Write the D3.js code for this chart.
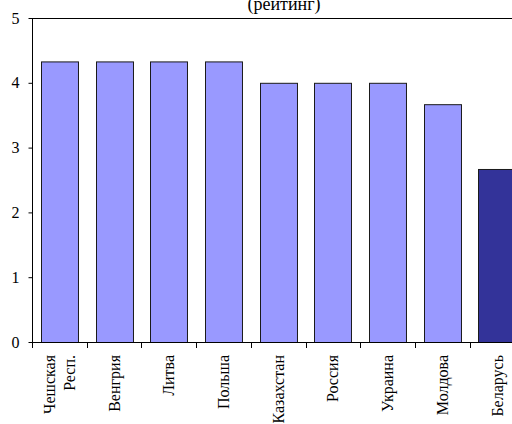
<!DOCTYPE html>
<html>
<head>
<meta charset="utf-8">
<script src="https://cdn.jsdelivr.net/npm/d3@7"></script>
<style>
  html, body { margin: 0; padding: 0; background: #fff; }
  text { font-family: "Liberation Serif", "Times New Roman", serif !important; }
</style>
</head>
<body>
<svg id="chart" width="512" height="424" font-family="Liberation Serif"></svg>
<script>
// Country ratings
const countries = ["Чешская\nРесп.", "Венгрия", "Литва", "Польша", "Казахстан", "Россия", "Украина", "Молдова", "Беларусь"];
const ratings = [4.33, 4.33, 4.33, 4.33, 4.0, 4.0, 4.0, 3.67, 2.67];
const highlight = ["Беларусь"];
const yTicks = [0, 1, 2, 3, 4, 5];
const title = "(рейтинг)";

const fontName = "Liberation Serif";
const svg = d3.select("#chart");
const plotLeft = 32, plotTop = 18, plotBottom = 342;
const step = 54.7;
const plotRight = plotLeft + step * countries.length;

const x = d3.scaleBand().domain(countries).range([plotLeft, plotRight]).paddingInner(0.324).paddingOuter(0.162);
const y = d3.scaleLinear().domain([0, 5]).range([plotBottom, plotTop]);

// plot frame (top edge)
svg.append("line")
  .attr("x1", plotLeft).attr("x2", plotRight).attr("y1", plotTop + 0.5).attr("y2", plotTop + 0.5)
  .attr("stroke", "#000").attr("stroke-width", 1);

// bars
svg.append("g").selectAll("rect")
  .data(countries)
  .join("rect")
  .attr("x", d => Math.round(x(d)) + 0.5)
  .attr("y", (d, i) => y(ratings[i]) + 0.5)
  .attr("width", x.bandwidth())
  .attr("height", (d, i) => y(0) - y(ratings[i]))
  .attr("fill", d => highlight.includes(d) ? "#333399" : "#9999FF")
  .attr("stroke", "#1a1a1a")
  .attr("stroke-width", 1);

// y axis
const yAxis = svg.append("g")
  .attr("transform", `translate(${plotLeft + 0.5},0)`)
  .call(d3.axisLeft(y).tickValues(yTicks).tickFormat(d3.format("d")).tickSize(4).tickPadding(9));
yAxis.attr("font-family", fontName).attr("font-size", 16);
yAxis.select(".domain").attr("d", `M0,${plotTop}V${plotBottom}`).attr("stroke", "#000");
yAxis.selectAll(".tick line").attr("stroke", "#000");
yAxis.selectAll(".tick text").attr("font-family", fontName).attr("fill", "#000");

// x axis baseline and boundary ticks
svg.append("line")
  .attr("x1", plotLeft).attr("x2", plotRight).attr("y1", plotBottom + 0.5).attr("y2", plotBottom + 0.5)
  .attr("stroke", "#000");
const bounds = d3.range(countries.length + 1).map(i => plotLeft + i * x.step());
svg.append("g").selectAll("line")
  .data(bounds)
  .join("line")
  .attr("x1", d => Math.round(d) + 0.5).attr("x2", d => Math.round(d) + 0.5)
  .attr("y1", plotBottom).attr("y2", plotBottom + 6)
  .attr("stroke", "#000");

// category labels, rotated
const labels = svg.append("g").selectAll("text")
  .data(countries)
  .join("text")
  .attr("transform", d => `translate(${x(d) + x.bandwidth() / 2},355) rotate(-90)`)
  .attr("text-anchor", "end")
  .attr("font-family", fontName)
  .attr("font-size", 16)
  .attr("fill", "#000");
labels.each(function(d) {
  const lines = d.split("\n");
  const t = d3.select(this);
  const lh = 20;
  const off = -(lines.length - 1) * lh / 2;
  lines.forEach((ln, i) => {
    t.append("tspan")
      .attr("x", 0)
      .attr("y", off + i * lh)
      .attr("dy", "0.35em")
      .text(ln);
  });
});

// title
svg.append("text")
  .attr("x", 284).attr("y", 10)
  .attr("text-anchor", "middle")
  .attr("font-family", fontName)
  .attr("font-size", 18)
  .attr("fill", "#000")
  .text(title);
</script>
</body>
</html>
